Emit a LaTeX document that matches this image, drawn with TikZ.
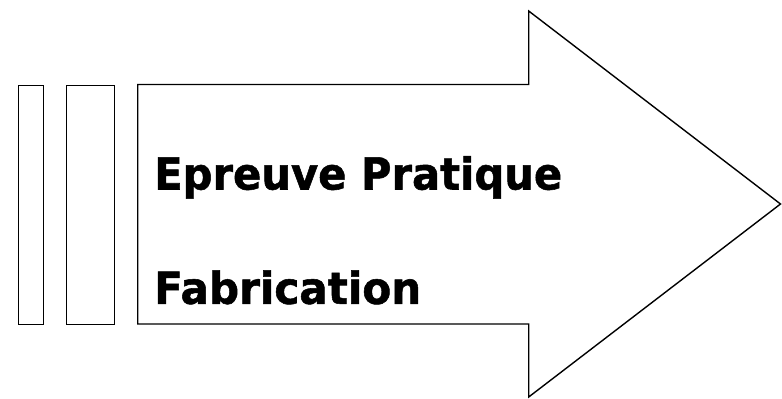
\documentclass[tikz,border=0pt]{standalone}
\usepackage{fontspec}
\usepackage{graphicx}
\setmainfont{DejaVu Sans}[BoldFeatures={FakeBold=1.2}]
\begin{document}
\begin{tikzpicture}[x=1pt,y=-1pt,
  outline/.style={draw=black,line width=1.4pt,line join=miter},
  label/.style={inner sep=0pt,anchor=base west,font=\fontsize{44pt}{48pt}\selectfont\bfseries}]
\useasboundingbox (0,0) rectangle (782,399);
\node[outline,minimum width=24.5pt,minimum height=239.5pt,inner sep=0pt,anchor=north west] (barA) at (18,84.5) {};
\node[outline,minimum width=48pt,minimum height=239.5pt,inner sep=0pt,anchor=north west] (barB) at (66,84.5) {};
\coordinate (bl) at (137.7,84.5);
\coordinate (tip) at (780.5,204);
\draw[outline] (bl) -- (528.7,84.5) -- (528.7,11) -- (tip) -- (528.7,397) -- (528.7,324) -- (137.7,324) -- cycle;
\node[label] (t1) at (154,189.5) {\resizebox{408pt}{\height}{Epreuve Pratique}};
\node[label] (t2) at (154,303.8) {\resizebox{267pt}{\height}{Fabrication}};
\end{tikzpicture}
\end{document}
